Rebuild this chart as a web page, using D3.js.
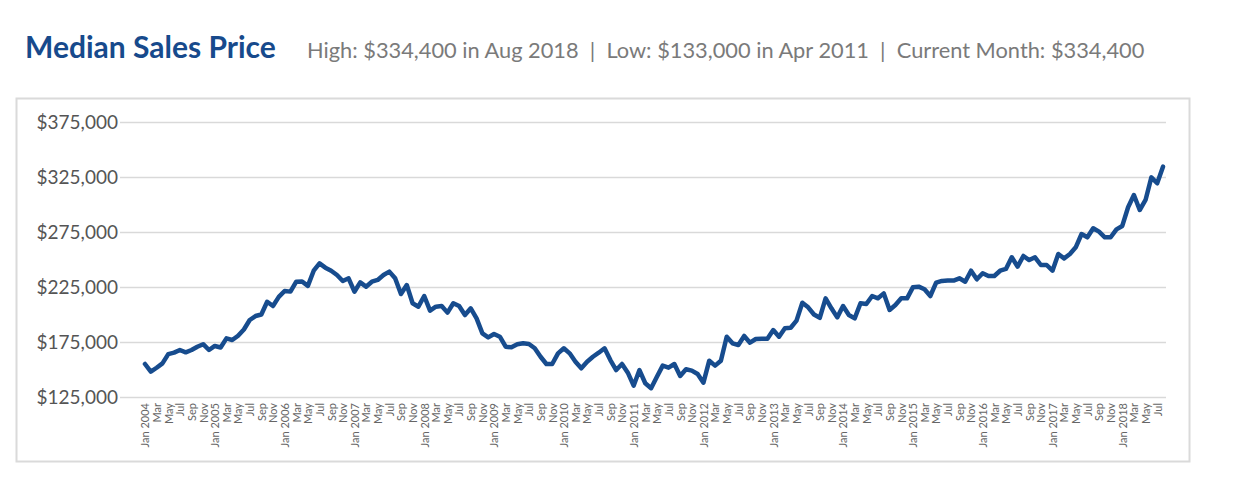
<!DOCTYPE html>
<html>
<head>
<meta charset="utf-8">
<script src="https://cdn.jsdelivr.net/npm/d3@7"></script>
<style>
  body { margin: 0; background: #fff; }
  text { font-family: Lato, "Open Sans", sans-serif; }
</style>
</head>
<body>
<div id="chart"></div>
<script>
// data: monthly median sales price, Jan 2004 .. Aug 2018
var startYear = 2004;
var monthNames = ["Jan","Feb","Mar","Apr","May","Jun","Jul","Aug","Sep","Oct","Nov","Dec"];
var prices = [
  155000,148000,151600,155600,164000,165300,167700,165600,167700,170700,173000,167700,
  171400,170000,178300,176800,180700,186400,195000,198600,200000,211600,207700,216000,
  221400,220800,229800,230000,226000,239800,246500,242600,239800,235900,230500,232900,
  220700,229200,225300,229800,231400,235900,239000,232900,218600,226800,210200,207100,
  216800,203500,207100,207700,201700,210200,207700,199500,205600,196500,182900,179200,
  182300,179800,170700,170200,172900,173800,173200,169300,161600,155000,155000,164700,
  169300,164700,157100,151100,157100,161600,165300,169300,158600,149500,155000,147100,
  135300,149500,137500,133000,143500,153500,151700,155000,144100,150200,149000,145900,
  138000,158000,153500,158000,179800,173800,172300,180500,174400,177700,178000,178000,
  185900,179800,187500,188000,194400,210700,206500,200000,197000,214700,205600,197400,
  207700,199500,196500,210200,209500,216800,214700,219200,204100,208600,214700,214700,
  224700,225300,222900,216800,228900,230500,230800,230800,232900,229800,239800,232000,
  237500,235000,235000,239800,241400,252000,243500,253200,249500,252000,245000,245000,
  239800,255000,251000,255000,261100,273200,270200,278400,275300,270200,270200,277400,
  280500,297500,308600,295000,304100,324700,319300,334400
];
var yTicks = [125000, 175000, 225000, 275000, 325000, 375000];
var title = "Median Sales Price";
var subtitle = "High: $334,400 in Aug 2018  |  Low: $133,000 in Apr 2011  |  Current Month: $334,400";

var W = 1235, H = 500;

var svg = d3.select("#chart")
  .append("svg")
    .attr("width", W)
    .attr("height", H);

// header
svg.append("text")
  .attr("x", 25)
  .attr("y", 58)
  .style("font-size", "30px")
  .style("font-weight", 700)
  .style("fill", "#174a8c")
  .text(title);

svg.append("text")
  .attr("x", 307)
  .attr("y", 58)
  .style("font-size", "21.8px")
  .style("fill", "#7a7a7a")
  .style("white-space", "pre")
  .text(subtitle);

// frame
svg.append("rect")
  .attr("x", 16.5)
  .attr("y", 98.5)
  .attr("width", 1173)
  .attr("height", 363)
  .style("fill", "none")
  .style("stroke", "#dadada")
  .style("stroke-width", 2);

// scales
var x = d3.scaleLinear()
  .domain([0, prices.length - 1])
  .range([145, 1163]);

var y = d3.scaleLinear()
  .domain([125000, 375000])
  .range([397, 122]);

// grid + y labels
var yAxis = svg.append("g")
  .attr("transform", "translate(120,0)")
  .call(d3.axisLeft(y)
    .tickValues(yTicks)
    .tickSize(-1046)
    .tickPadding(2)
    .tickFormat(function(d) { return "$" + d3.format(",")(d); }));
yAxis.select(".domain").remove();
yAxis.selectAll(".tick line")
  .style("stroke", "#d9d9d9")
  .style("stroke-width", 1.5);
yAxis.selectAll(".tick text")
  .style("font-size", "19px")
  .style("font-family", "Lato, sans-serif")
  .style("fill", "#555");

// x labels: every other month, rotated
var idx = d3.range(0, prices.length, 2);
var xAxis = svg.append("g")
  .attr("transform", "translate(0,403)")
  .call(d3.axisBottom(x)
    .tickValues(idx)
    .tickSize(0)
    .tickPadding(0)
    .tickFormat(function(i) {
      var m = i % 12;
      return m === 0 ? monthNames[m] + " " + (startYear + i / 12) : monthNames[m];
    }));
xAxis.select(".domain").remove();
xAxis.selectAll(".tick text")
  .attr("transform", "rotate(-90)")
  .attr("x", 0)
  .attr("y", 0)
  .attr("dy", "0.35em")
  .style("text-anchor", "end")
  .style("font-size", "11px")
  .style("font-family", "Lato, sans-serif")
  .style("fill", "#666");

// line
var line = d3.line()
  .x(function(d, i) { return x(i); })
  .y(function(d) { return y(d); });

svg.append("path")
  .datum(prices)
  .attr("d", line)
  .style("fill", "none")
  .style("stroke", "#174c8e")
  .style("stroke-width", 4.5)
  .style("stroke-linejoin", "round")
  .style("stroke-linecap", "round");
</script>
</body>
</html>
